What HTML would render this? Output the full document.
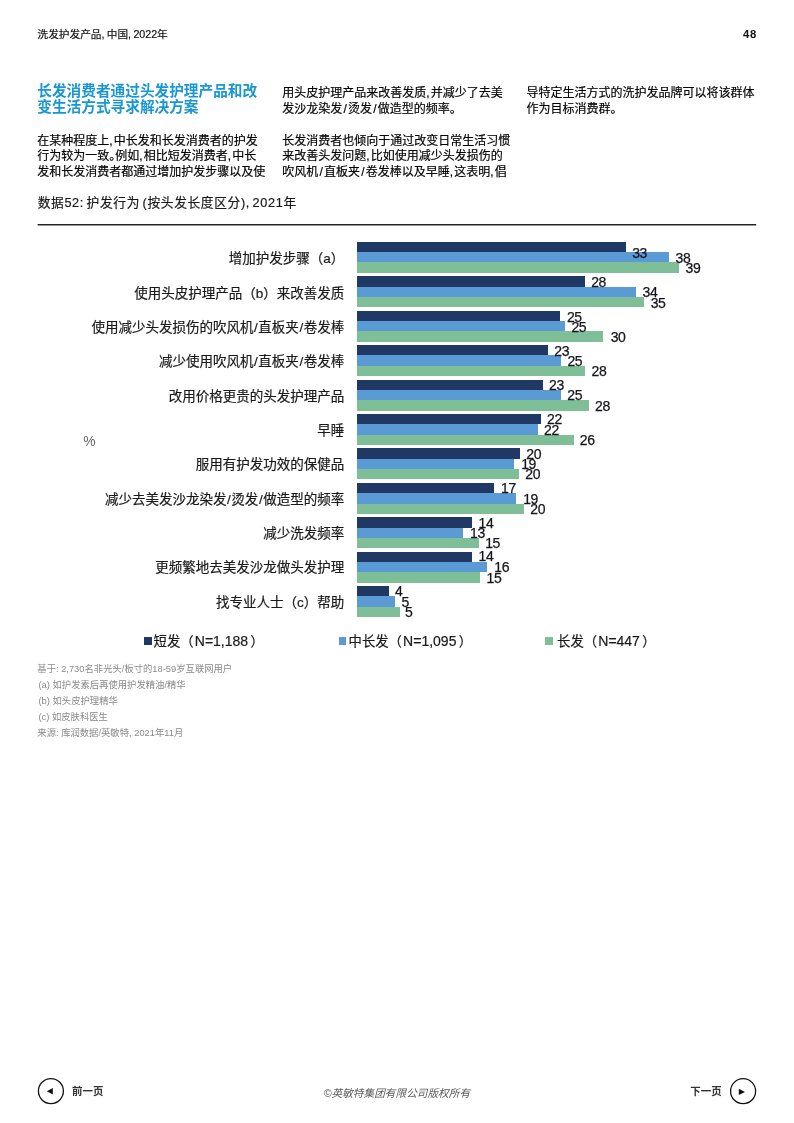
<!DOCTYPE html>
<html lang="zh-CN"><head><meta charset="utf-8"><title>洗发护发产品, 中国, 2022年</title>
<style>
html,body{margin:0;padding:0;background:#fff}
body{width:794px;height:1123px;position:relative;overflow:hidden;font-family:"Liberation Sans","Noto Sans CJK SC",sans-serif;color:#111}
div{position:absolute;white-space:nowrap}
i{font-style:normal}
.hd{left:37.5px;top:26.3px;font-size:10.67px;line-height:16px;color:#111;-webkit-text-stroke:0.2px #111;word-spacing:-0.6px}
.pg{right:37.6px;top:26.1px;font-size:11.3px;line-height:16px;font-weight:bold;color:#111;letter-spacing:0.9px;margin-right:-0.9px}
.ti{left:37.3px;top:84.2px;font-size:14.67px;line-height:15.8px;font-weight:bold;color:#1897d3}
.p{font-size:12px;line-height:15.8px;color:#000;word-spacing:-2.2px;-webkit-text-stroke:0.18px #000}
.p i{margin:0 1.2px}
.p b{font-weight:normal;margin-right:-6px}
.ct{left:37.7px;top:193.3px;font-size:12.7px;line-height:20px;color:#1a1a1a;-webkit-text-stroke:0.2px #1a1a1a;word-spacing:-1.6px;letter-spacing:0.66px}
.rule{left:37.5px;top:224px;width:718.5px;height:1.5px;background:#111}
.cl{right:449.7px;font-size:13.5px;line-height:20px;color:#1a1a1a;-webkit-text-stroke:0.2px #1a1a1a;text-align:right}
.cl i{margin:0 0.6px}
.b{left:357.0px;height:10.33px}
.v{font-size:14px;line-height:16px;color:#15151c;letter-spacing:-0.45px;-webkit-text-stroke:0.25px #15151c}
.pct{left:83.3px;top:434.2px;font-size:13.8px;line-height:16px;color:#666}
.lg{font-size:13.33px;line-height:18px;color:#1a1a1a;-webkit-text-stroke:0.2px #1a1a1a;top:631.6px}
.lg i{font-size:14px;margin-left:1.2px;margin-right:2.4px;letter-spacing:0}
.sq{width:7.5px;height:7.6px;top:637.1px}
.fn{left:37.3px;font-size:9.33px;line-height:12px;color:#8a8a8a}
.nav{font-size:10.4px;line-height:12px;font-weight:bold;color:#333;top:1086.2px;letter-spacing:0.15px}
.circ{width:23.7px;height:23.7px;border:1.25px solid #111;border-radius:50%;top:1078px;box-sizing:content-box}
.cp{left:323.7px;top:1086.6px;font-size:10.67px;line-height:13px;color:#5a5a5a;font-style:italic}
</style></head><body>
<div class="hd">洗发护发产品, 中国, 2022年</div>
<div class="pg">48</div>
<div class="ti">长发消费者通过头发护理产品和改<br>变生活方式寻求解决方案</div>
<div class="p" style="left:37.3px;top:133.6px">在某种程度上, 中长发和长发消费者的护发<br>行为较为一致<b>。</b>例如, 相比短发消费者, 中长<br>发和长发消费者都通过增加护发步骤以及使</div>
<div class="p" style="left:282.3px;top:86.2px">用头皮护理产品来改善发质, 并减少了去美<br>发沙龙染发<i>/</i>烫发<i>/</i>做造型的频率<b>。</b></div>
<div class="p" style="left:282.3px;top:133.6px">长发消费者也倾向于通过改变日常生活习惯<br>来改善头发问题, 比如使用减少头发损伤的<br>吹风机<i>/</i>直板夹<i>/</i>卷发棒以及早睡, 这表明, 倡</div>
<div class="p" style="left:526.5px;top:86.2px">导特定生活方式的洗护发品牌可以将该群体<br>作为目标消费群<b>。</b></div>
<div class="ct">数据52: 护发行为 (按头发长度区分), 2021年</div>
<svg style="position:absolute;left:0;top:220px" width="794" height="10" viewBox="0 0 794 10"><rect x="37.6" y="4.05" width="718.6" height="1.4" fill="#1a1a1a"/></svg>
<div class="cl" style="top:249.2px">增加护发步骤（a）</div>
<div class="b" style="top:241.80px;width:269.1px;background:#1f3864"></div>
<div class="b" style="top:252.13px;width:311.9px;background:#5b9bd5"></div>
<div class="b" style="top:262.46px;width:322.0px;background:#7fbf97"></div>
<div class="cl" style="top:283.6px">使用头皮护理产品（b）来改善发质</div>
<div class="b" style="top:276.24px;width:227.6px;background:#1f3864"></div>
<div class="b" style="top:286.56px;width:279.0px;background:#5b9bd5"></div>
<div class="b" style="top:296.90px;width:287.1px;background:#7fbf97"></div>
<div class="cl" style="top:317.9px">使用减少头发损伤的吹风机<i>/</i>直板夹<i>/</i>卷发棒</div>
<div class="b" style="top:310.67px;width:203.3px;background:#1f3864"></div>
<div class="b" style="top:321.00px;width:207.7px;background:#5b9bd5"></div>
<div class="b" style="top:331.33px;width:246.4px;background:#7fbf97"></div>
<div class="cl" style="top:352.3px">减少使用吹风机<i>/</i>直板夹<i>/</i>卷发棒</div>
<div class="b" style="top:345.11px;width:190.8px;background:#1f3864"></div>
<div class="b" style="top:355.44px;width:203.9px;background:#5b9bd5"></div>
<div class="b" style="top:365.77px;width:227.9px;background:#7fbf97"></div>
<div class="cl" style="top:386.6px">改用价格更贵的头发护理产品</div>
<div class="b" style="top:379.54px;width:185.9px;background:#1f3864"></div>
<div class="b" style="top:389.87px;width:203.6px;background:#5b9bd5"></div>
<div class="b" style="top:400.20px;width:232.0px;background:#7fbf97"></div>
<div class="cl" style="top:421.0px">早睡</div>
<div class="b" style="top:413.98px;width:183.9px;background:#1f3864"></div>
<div class="b" style="top:424.31px;width:180.8px;background:#5b9bd5"></div>
<div class="b" style="top:434.64px;width:216.9px;background:#7fbf97"></div>
<div class="cl" style="top:455.4px">服用有护发功效的保健品</div>
<div class="b" style="top:448.41px;width:163.0px;background:#1f3864"></div>
<div class="b" style="top:458.74px;width:156.6px;background:#5b9bd5"></div>
<div class="b" style="top:469.07px;width:162.0px;background:#7fbf97"></div>
<div class="cl" style="top:489.7px">减少去美发沙龙染发<i>/</i>烫发<i>/</i>做造型的频率</div>
<div class="b" style="top:482.85px;width:137.0px;background:#1f3864"></div>
<div class="b" style="top:493.18px;width:159.0px;background:#5b9bd5"></div>
<div class="b" style="top:503.51px;width:167.0px;background:#7fbf97"></div>
<div class="cl" style="top:524.1px">减少洗发频率</div>
<div class="b" style="top:517.28px;width:115.1px;background:#1f3864"></div>
<div class="b" style="top:527.61px;width:106.1px;background:#5b9bd5"></div>
<div class="b" style="top:537.94px;width:121.6px;background:#7fbf97"></div>
<div class="cl" style="top:558.4px">更频繁地去美发沙龙做头发护理</div>
<div class="b" style="top:551.72px;width:115.1px;background:#1f3864"></div>
<div class="b" style="top:562.05px;width:130.0px;background:#5b9bd5"></div>
<div class="b" style="top:572.38px;width:123.2px;background:#7fbf97"></div>
<div class="cl" style="top:592.8px">找专业人士（c）帮助</div>
<div class="b" style="top:586.15px;width:32.0px;background:#1f3864"></div>
<div class="b" style="top:596.48px;width:38.4px;background:#5b9bd5"></div>
<div class="b" style="top:606.81px;width:42.9px;background:#7fbf97"></div>
<div class="v" style="top:245.4px;left:632.2px">33</div>
<div class="v" style="top:249.5px;left:675.6px">38</div>
<div class="v" style="top:259.7px;left:685.6px">39</div>
<div class="v" style="top:273.5px;left:591.2px">28</div>
<div class="v" style="top:284.2px;left:642.6px">34</div>
<div class="v" style="top:294.8px;left:650.7px">35</div>
<div class="v" style="top:308.8px;left:567.0px">25</div>
<div class="v" style="top:318.7px;left:571.4px">25</div>
<div class="v" style="top:329.0px;left:610.7px">30</div>
<div class="v" style="top:342.5px;left:554.3px">23</div>
<div class="v" style="top:353.2px;left:567.4px">25</div>
<div class="v" style="top:362.7px;left:591.6px">28</div>
<div class="v" style="top:377.2px;left:549.1px">23</div>
<div class="v" style="top:386.9px;left:567.3px">25</div>
<div class="v" style="top:397.9px;left:595.1px">28</div>
<div class="v" style="top:411.0px;left:547.1px">22</div>
<div class="v" style="top:421.5px;left:544.1px">22</div>
<div class="v" style="top:431.6px;left:579.8px">26</div>
<div class="v" style="top:445.8px;left:526.3px">20</div>
<div class="v" style="top:455.5px;left:521.2px">19</div>
<div class="v" style="top:466.4px;left:525.3px">20</div>
<div class="v" style="top:479.7px;left:501.1px">17</div>
<div class="v" style="top:490.5px;left:523.2px">19</div>
<div class="v" style="top:500.6px;left:530.3px">20</div>
<div class="v" style="top:514.8px;left:478.6px">14</div>
<div class="v" style="top:524.9px;left:470.1px">13</div>
<div class="v" style="top:534.9px;left:485.2px">15</div>
<div class="v" style="top:548.4px;left:478.6px">14</div>
<div class="v" style="top:559.1px;left:494.3px">16</div>
<div class="v" style="top:569.8px;left:486.6px">15</div>
<div class="v" style="top:582.8px;left:395.0px">4</div>
<div class="v" style="top:593.9px;left:401.5px">5</div>
<div class="v" style="top:604.0px;left:405.1px">5</div>
<div class="pct">%</div>
<div class="sq" style="left:144.1px;background:#1f3864"></div><div class="lg" style="left:153.6px">短发（<i>N=1,188</i>）</div>
<div class="sq" style="left:338.5px;background:#5b9bd5"></div><div class="lg" style="left:348.6px">中长发（<i>N=1,095</i>）</div>
<div class="sq" style="left:545.1px;background:#7fbf97"></div><div class="lg" style="left:557.1px">长发（<i>N=447</i>）</div>
<div class="fn" style="top:662.5px">基于: 2,730名非光头/板寸的18-59岁互联网用户</div>
<div class="fn" style="top:678.6px;left:38.5px">(a) 如护发素后再使用护发精油/精华</div>
<div class="fn" style="top:694.7px;left:38.5px">(b) 如头皮护理精华</div>
<div class="fn" style="top:710.8px;left:38.5px">(c) 如皮肤科医生</div>
<div class="fn" style="top:726.9px">来源: 库润数据/英敏特, 2021年11月</div>
<svg style="position:absolute;left:30px;top:1070px" width="40" height="40" viewBox="0 0 40 40"><circle cx="20.9" cy="21.1" r="12.5" fill="none" stroke="#111" stroke-width="1.3"/><path d="M22.8 18.1 L16.9 21.3 L22.8 24.5 Z" fill="#111"/></svg>
<div class="nav" style="left:72px">前一页</div>
<div class="cp">©英敏特集团有限公司版权所有</div>
<div class="nav" style="left:690.2px">下一页</div>
<svg style="position:absolute;left:720px;top:1070px" width="40" height="40" viewBox="0 0 40 40"><circle cx="23.1" cy="21.2" r="12.5" fill="none" stroke="#111" stroke-width="1.3"/><path d="M18.8 18.7 L25 21.9 L18.8 25.1 Z" fill="#111"/></svg>
</body></html>
